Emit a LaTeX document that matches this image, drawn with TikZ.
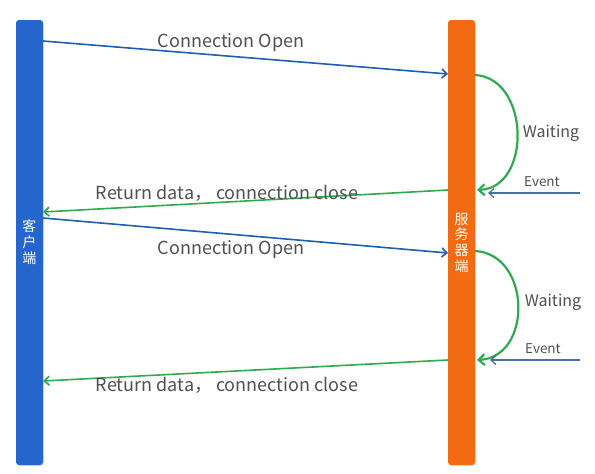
\documentclass[tikz,border=0pt]{standalone}
\usepackage{fontspec}
\setmainfont{Noto Sans CJK SC}
\usetikzlibrary{arrows.meta,shadows}

\definecolor{clientblue}{RGB}{37,102,204}
\definecolor{serverorange}{RGB}{242,107,18}
\definecolor{openblue}{RGB}{31,95,176}
\definecolor{returngreen}{RGB}{46,170,80}
\definecolor{eventblue}{RGB}{74,111,165}
\definecolor{labelgray}{RGB}{80,80,80}

\tikzset{
  bar/.style={rounded corners=3pt, minimum width=27pt, minimum height=445pt,
    inner sep=0pt, text=white, font=\fontsize{14}{16}\selectfont,
    drop shadow={opacity=0.25, shadow xshift=1pt, shadow yshift=-1pt}},
  msg/.style={text=labelgray, font=\fontsize{18}{20}\selectfont},
  wait msg/.style={text=labelgray, font=\fontsize{16}{18}\selectfont},
  small msg/.style={text=labelgray, font=\fontsize{13.5}{15}\selectfont},
  open arrow/.style={draw=openblue, line width=1.6pt, -{Straight Barb[length=5pt,width=9pt]}},
  return arrow/.style={draw=returngreen, line width=1.6pt, -{Straight Barb[length=5pt,width=9pt]}},
  wait arrow/.style={draw=returngreen, line width=2.2pt, -{Straight Barb[length=6pt,width=11pt]}},
  event arrow/.style={draw=eventblue, line width=1.3pt, -{Straight Barb[length=5pt,width=9pt]}}
}

\begin{document}
\begin{tikzpicture}[x=1pt, y=-1pt]
    \useasboundingbox (0,0) rectangle (595,474);

    % --- the two life lines ---
    \node[bar, fill=clientblue] (client) at (29.5,242.5)
        {\shortstack{客\\户\\端}};
    \node[bar, fill=serverorange] (server) at (461.5,242.5)
        {\shortstack{服\\务\\器\\端}};

    % --- anchor points on the bars ---
    \coordinate (c1) at (43,41);   \coordinate (s1) at (448,74);
    \coordinate (w1a) at (475,75); \coordinate (w1b) at (477,190);
    \coordinate (s2) at (448,190); \coordinate (c2) at (43,212);
    \coordinate (c3) at (43,218);  \coordinate (s3) at (448,253);
    \coordinate (w2a) at (475,251);\coordinate (w2b) at (477,360);
    \coordinate (s4) at (448,360); \coordinate (c4) at (43,381);
    % free ends of the event arrows
    \coordinate (e1) at (580,193); \coordinate (e1t) at (488,193);
    \coordinate (e2) at (580,360); \coordinate (e2t) at (490,360);

    % --- first round ---
    \draw[open arrow] (c1) -- (s1);
    \node[msg] (open1) at (231,43) {Connection Open};
    \draw[wait arrow] (w1a) .. controls (530,78) and (532,188) .. (w1b);
    \node[wait msg] (wait1) at (551,133) {Waiting};
    \draw[event arrow] (e1) -- (e1t);
    \node[small msg] (event1) at (542,182) {Event};
    \draw[return arrow] (s2) -- (c2);
    \node[msg] (return1) at (227,193) {Return data， connection close};

    % --- second round ---
    \draw[open arrow] (c3) -- (s3);
    \node[msg] (open2) at (231,250) {Connection Open};
    \draw[wait arrow] (w2a) .. controls (531,254) and (533,357) .. (w2b);
    \node[wait msg] (wait2) at (553,302) {Waiting};
    \draw[event arrow] (e2) -- (e2t);
    \node[small msg] (event2) at (543,349) {Event};
    \draw[return arrow] (s4) -- (c4);
    \node[msg] (return2) at (227,385) {Return data， connection close};
\end{tikzpicture}
\end{document}
